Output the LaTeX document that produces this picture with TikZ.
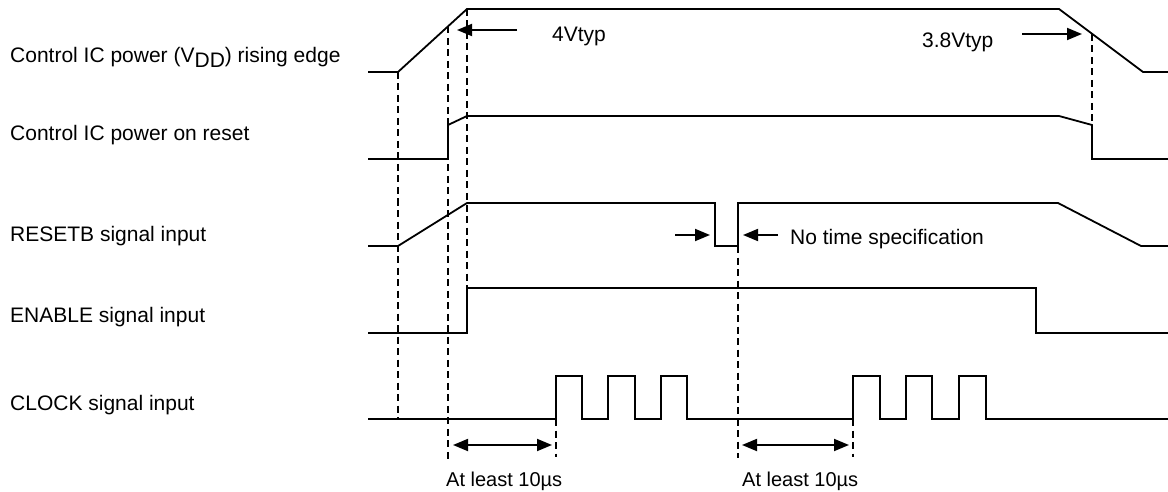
\documentclass[tikz,border=0pt]{standalone}
\usepackage{fontspec}
\setmainfont{Liberation Sans}
\usetikzlibrary{arrows.meta}
\begin{document}
\begin{tikzpicture}[x=1pt,y=-1pt,
  sig/.style={line width=1.8pt, line join=miter},
  guide/.style={line width=1.5pt, dash pattern=on 7pt off 4.5pt},
  lbl/.style={anchor=base west, inner sep=0pt, font=\fontsize{21}{25}\selectfont},
  small/.style={anchor=base west, inner sep=0pt, font=\fontsize{20}{24}\selectfont},
  arr/.style={line width=1.8pt, -{Triangle[length=15pt,width=12pt]}},
  darr/.style={line width=1.8pt, {Triangle[length=15pt,width=12pt]}-{Triangle[length=15pt,width=12pt]}}]
\useasboundingbox (0,0) rectangle (1168,492);

% labels
\node[lbl] (lvdd) at (10,63) {Control IC power (V\raisebox{-5pt}{DD}) rising edge};
\node[lbl] (lpor) at (10,141) {Control IC power on reset};
\node[lbl] (lrst) at (10,241) {RESETB signal input};
\node[lbl] (len)  at (10,322) {ENABLE signal input};
\node[lbl] (lclk) at (10,410) {CLOCK signal input};

% key points
\coordinate (vddA) at (398,72);
\coordinate (vddB) at (467,9);
\coordinate (vddC) at (1059,9);
\coordinate (vddD) at (1143,72);
\coordinate (vdd4) at (448,26.3);
\coordinate (vdd38) at (1092,33.8);
\coordinate (porR) at (1092,125);
\coordinate (enR) at (467,288);
\coordinate (rstR) at (738,246);
\coordinate (ck1) at (556,419);
\coordinate (ck2) at (853,419);
\coordinate (clkA) at (398,419);
\coordinate (g1) at (448,460);
\coordinate (g2) at (556,457);
\coordinate (g3) at (738,458);
\coordinate (g4) at (853,457);

% waveforms
\draw[sig] (368,72) -- (vddA) -- (vddB) -- (vddC) -- (vddD) -- (1168,72);
\draw[sig] (368,159) -- (448,159) -- (448,125) -- (467,116) -- (1059,116) -- (porR) -- (1092,159) -- (1168,159);
\draw[sig] (368,246) -- (398,246) -- (467,203) -- (715,203) -- (715,246) -- (rstR) -- (738,203) -- (1058,203) -- (1141,246) -- (1168,246);
\draw[sig] (368,333) -- (467,333) -- (enR) -- (1036,288) -- (1036,333) -- (1168,333);
\draw[sig] (368,419) -- (ck1) -- (556,376) -- (582,376) -- (582,419) -- (608,419) -- (608,376) -- (635,376) -- (635,419)
  -- (661,419) -- (661,376) -- (687,376) -- (687,419) -- (ck2) -- (853,376) -- (880,376) -- (880,419)
  -- (906,419) -- (906,376) -- (932,376) -- (932,419) -- (959,419) -- (959,376) -- (986,376) -- (986,419) -- (1168,419);

% guide lines
\draw[guide] (vddA) -- (clkA);
\draw[guide] (vdd4) -- (g1);
\draw[guide] (vddB) -- (enR);
\draw[guide] (rstR) -- (g3);
\draw[guide] (ck1) -- (g2);
\draw[guide] (ck2) -- (g4);
\draw[guide] (vdd38) -- (porR);

% annotations
\coordinate (a4t) at (517,30);  \coordinate (a4h) at (457,30);
\coordinate (a38t) at (1022,34); \coordinate (a38h) at (1082,34);
\coordinate (ntl) at (675,235); \coordinate (ntlh) at (710,235);
\coordinate (ntr) at (778,235); \coordinate (ntrh) at (743,235);
\coordinate (d1a) at (453,445); \coordinate (d1b) at (552,445);
\coordinate (d2a) at (742,445); \coordinate (d2b) at (849,445);
\draw[arr] (a4t) -- (a4h);
\draw[arr] (a38t) -- (a38h);
\draw[arr] (ntl) -- (ntlh);
\draw[arr] (ntr) -- (ntrh);
\draw[darr] (d1a) -- (d1b);
\draw[darr] (d2a) -- (d2b);

\node[lbl] (t4) at (552,42) {4Vtyp};
\node[lbl] (t38) at (922,48) {3.8Vtyp};
\node[lbl] (tnt) at (790,244) {No time specification};
\node[small] (tl1) at (446,486) {At least 10µs};
\node[small] (tl2) at (742,486) {At least 10µs};
\end{tikzpicture}
\end{document}
